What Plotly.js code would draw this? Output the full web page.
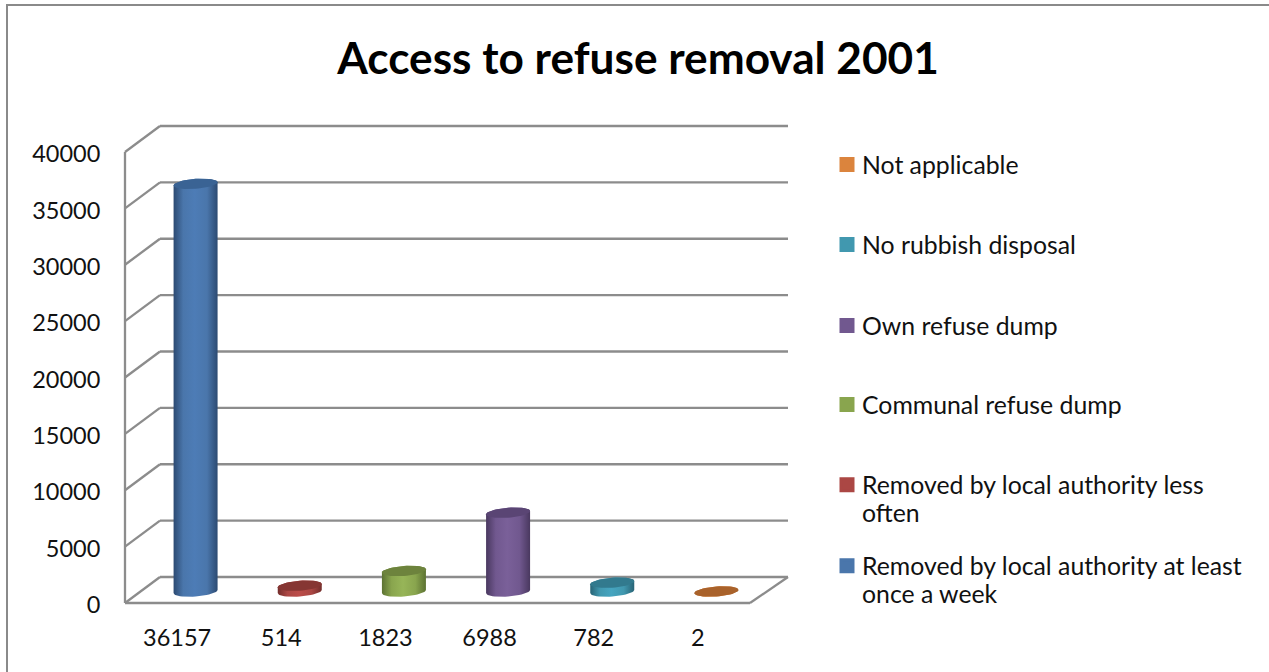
<!DOCTYPE html>
<html>
<head>
<meta charset="utf-8">
<title>Access to refuse removal 2001</title>
<script src="https://cdn.plot.ly/plotly-3.0.1.min.js"></script>
<style>html,body{margin:0;padding:0;background:#fff;overflow:hidden}#chart{width:1269px;height:672px}</style>
</head>
<body>
<div id="chart"></div>
<script>
// Households by refuse removal type (legend runs from the last category to the first)
const categories = ["Removed by local authority at least once a week", "Removed by local authority less often", "Communal refuse dump", "Own refuse dump", "No rubbish disposal", "Not applicable"];
const legendNames = ["Removed by local authority at least<br>once a week", "Removed by local authority less<br>often", "Communal refuse dump", "Own refuse dump", "No rubbish disposal", "Not applicable"];
const values = [36157, 514, 1823, 6988, 782, 2];
const tickLabels = ["36157", "514", "1823", "6988", "782", "2"];
const yTicks = [0, 5000, 10000, 15000, 20000, 25000, 30000, 35000, 40000];

const bodyColors = ["#4a76ab", "#ab4744", "#89a54e", "#71588f", "#4198af", "#db843d"];
const edgeColors = ["#2c4a72", "#732d2b", "#5c7232", "#49385f", "#286476", "#a05a25"];
const lightColors = ["#4d7cb6", "#bc4d4a", "#97b558", "#7a6099", "#46a5c0", "#e08c46"];
const capColors = ["#3a6394", "#863633", "#6d833d", "#5a4574", "#327a8e", "#a9622b"];
const legendCenters = [566, 485, 405, 326, 245, 165];

// Pixel geometry of the oblique projection
const W = 1269, H = 672;
const plotL = 115, plotR = 798, plotT = 112, plotB = 613;
const frontL = 125, frontR = 750, frontBase = 603, front40k = 152;
const depthX = 35, depthY = 26;
const backR = 788;
const unitX = (frontR - frontL) / 6;
const unitY = (frontBase - front40k) / 40000;
const toX = p => -0.5 + (p - frontL) / unitX;
const toY = p => (frontBase - p) / unitY;
const floorMid = (frontBase - 591.5) / unitY;
const shiftX = 18.5 / unitX;
const capA = 22, capB = 5, capTilt = 1.6;

function ringPoint(cx, level, theta) {
  return [
    cx + capA * Math.cos(theta) / unitX,
    level + (capB * Math.sin(theta) + capTilt * Math.cos(theta)) / unitY
  ];
}
function arc(cx, level, from, to, steps) {
  const xs = [], ys = [];
  for (let k = 0; k <= steps; k++) {
    const [x, y] = ringPoint(cx, level, from + (to - from) * k / steps);
    xs.push(x); ys.push(y);
  }
  return [xs, ys];
}

const barTraces = values.map((v, i) => ({
  type: "bar",
  name: legendNames[i],
  x: [i + shiftX],
  y: [v],
  base: [floorMid],
  width: 30 / unitX,
  marker: {color: bodyColors[i], line: {color: bodyColors[i], width: 3}},
  legend: i === 0 ? "legend" : "legend" + (i + 1),
  showlegend: true,
  hoverinfo: "skip"
}));

const shadeTraces = values.map((v, i) => {
  const cx = i + shiftX;
  const [tx, ty] = arc(cx, floorMid + v, 0, Math.PI, 24);
  const [bx, by] = arc(cx, floorMid, Math.PI, 2 * Math.PI, 24);
  return {
    type: "scatter", mode: "lines",
    x: tx.concat(bx, [tx[0]]), y: ty.concat(by, [ty[0]]),
    fill: "toself",
    fillgradient: {
      type: "horizontal",
      colorscale: [[0, edgeColors[i]], [0.22, bodyColors[i]], [0.48, lightColors[i]], [0.76, bodyColors[i]], [1, edgeColors[i]]]
    },
    line: {width: 0, color: bodyColors[i]},
    showlegend: false, hoverinfo: "skip"
  };
});

const capTraces = values.map((v, i) => {
  const [cxs, cys] = arc(i + shiftX, floorMid + v, 0, 2 * Math.PI, 48);
  return {
    type: "scatter", mode: "lines", x: cxs, y: cys,
    fill: "toself", fillcolor: capColors[i],
    line: {width: 0, color: capColors[i]},
    showlegend: false, hoverinfo: "skip"
  };
});

// Walls and floor of the box
const wallColor = "#8c8c8c";
const seg = (x0, y0, x1, y1) => ({
  type: "line", xref: "x", yref: "y", layer: "below",
  x0, y0, x1, y1, line: {color: wallColor, width: 2.3}
});
const backShift = depthY / unitY;
const wallShapes = [];
yTicks.forEach(v => {
  wallShapes.push(seg(toX(frontL), v, toX(frontL + depthX), v + backShift));
  wallShapes.push(seg(toX(frontL + depthX), v + backShift, toX(backR), v + backShift));
});
wallShapes.push(seg(toX(frontL), 0, toX(frontL), 40000));
wallShapes.push(seg(toX(frontL), 0, toX(frontR), 0));
wallShapes.push(seg(toX(frontR), 0, toX(backR), backShift));

// Chart frame: open at the right and bottom edges of the page
const paperX = p => (p - plotL) / (plotR - plotL);
const paperY = p => (plotB - p) / (plotB - plotT);
const frameLine = (x0, y0, x1, y1) => ({
  type: "line", xref: "paper", yref: "paper",
  x0: paperX(x0), y0: paperY(y0), x1: paperX(x1), y1: paperY(y1),
  line: {color: "#8a8a8a", width: 2}
});
const frameShapes = [frameLine(7, 5, 7, H), frameLine(6, 5, W, 5)];

const fontFamily = "Lato, 'Open Sans', sans-serif";
const tickFont = {family: fontFamily, size: 23.5, color: "#111111"};
const legendFont = {family: fontFamily, size: 24.8, color: "#111111"};

const layout = {
  width: W, height: H,
  margin: {l: plotL, r: W - plotR, t: plotT, b: H - plotB, pad: 0},
  paper_bgcolor: "#ffffff", plot_bgcolor: "rgba(0,0,0,0)",
  barmode: "overlay",
  title: {
    text: "<b>Access to refuse removal 2001</b>",
    x: 638 / W, xref: "container", xanchor: "center",
    y: 1 - 59 / H, yref: "container", yanchor: "middle",
    font: {family: fontFamily, size: 44.2, color: "#000000"}
  },
  xaxis: {
    range: [toX(plotL), toX(plotR)], type: "linear",
    tickmode: "array", tickvals: [0, 1, 2, 3, 4, 5], ticktext: tickLabels,
    tickfont: tickFont, showgrid: false, zeroline: false, showline: false,
    ticks: "outside", ticklen: 4, tickcolor: "rgba(0,0,0,0)", fixedrange: true
  },
  yaxis: {
    range: [toY(plotB), toY(plotT)],
    tickmode: "array", tickvals: yTicks, ticktext: yTicks.map(String),
    tickfont: tickFont, showgrid: false, zeroline: false, showline: false,
    ticks: "outside", ticklen: 9, tickcolor: "rgba(0,0,0,0)", fixedrange: true,
    ticklabelshift: 2
  },
  shapes: wallShapes.concat(frameShapes),
  showlegend: true
};

// One legend box per entry so that each line sits at its own height
legendCenters.forEach((c, i) => {
  const key = i === 0 ? "legend" : "legend" + (i + 1);
  layout[key] = {
    xref: "container", yref: "container",
    x: 822 / W, xanchor: "left",
    y: 1 - (c - 23) / H, yanchor: "top",
    bgcolor: "rgba(0,0,0,0)", borderwidth: 0,
    font: legendFont, itemclick: false, itemdoubleclick: false
  };
});

Plotly.newPlot("chart", barTraces.concat(shadeTraces, capTraces), layout, {displayModeBar: false, staticPlot: true}).then(() => {
  // Pull swatches next to the first text line and tighten wrapped legend lines
  document.querySelectorAll("g.traces").forEach(entry => {
    const points = entry.querySelector("g.legendpoints");
    const lines = entry.querySelectorAll("tspan.line");
    if (!points) return;
    points.setAttribute("transform", "translate(5," + (lines.length > 1 ? -16 : 0) + ")");
    if (lines.length > 1) lines[1].setAttribute("dy", "1.13em");
  });
});
</script>
</body>
</html>
